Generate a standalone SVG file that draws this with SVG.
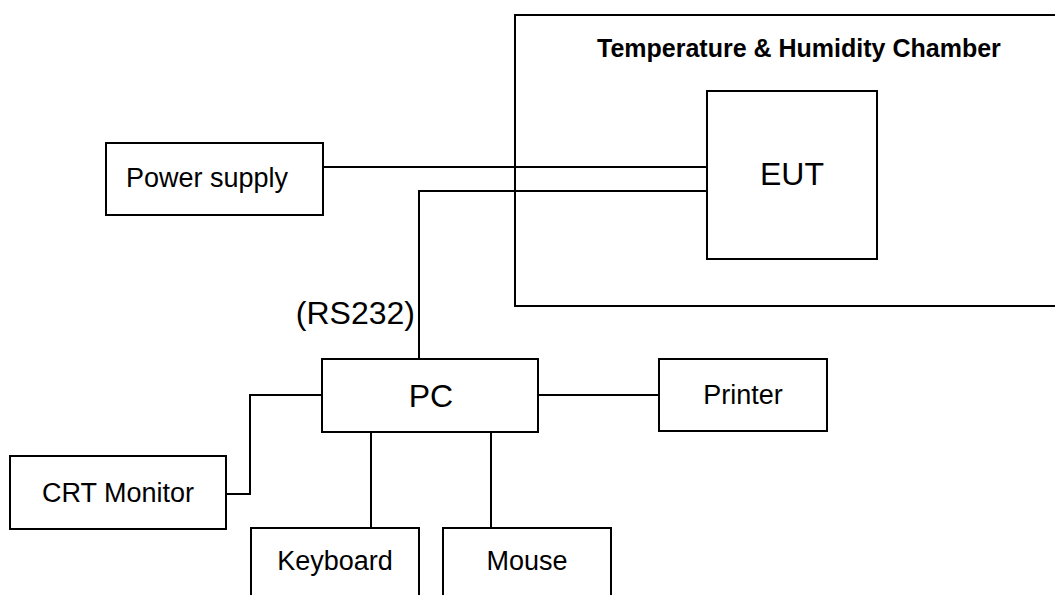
<svg xmlns="http://www.w3.org/2000/svg" width="1055" height="595" viewBox="0 0 1055 595">
<style>
.box{fill:#fff;stroke:#000;stroke-width:2}
.ln{fill:none;stroke:#000;stroke-width:2}
.t{font-family:"Liberation Sans",Arial,sans-serif;font-size:27px;fill:#000}
.big{font-size:32px}
.title{font-weight:bold;font-size:25px}
</style>
<rect width="1055" height="595" fill="#fff"/>
<g id="chamber">
<rect class="box" x="515" y="15" width="560" height="291"/>
<text class="t title" x="597" y="57">Temperature &amp; Humidity Chamber</text>
</g>
<g id="connectors">
<line class="ln" x1="323" y1="167" x2="707" y2="167"/>
<polyline class="ln" points="707,191 419,191 419,359"/>
<line class="ln" x1="538" y1="395" x2="659" y2="395"/>
<polyline class="ln" points="226,494 250,494 250,395 322,395"/>
<line class="ln" x1="371" y1="432" x2="371" y2="528"/>
<line class="ln" x1="491" y1="432" x2="491" y2="528"/>
<text class="t big" x="415" y="324" text-anchor="end">(RS232)</text>
</g>
<g id="eut">
<rect class="box" x="707" y="91" width="170" height="168"/>
<text class="t big" x="792" y="185" text-anchor="middle">EUT</text>
</g>
<g id="power">
<rect class="box" x="106" y="143" width="217" height="72"/>
<text class="t" x="126" y="187">Power supply</text>
</g>
<g id="pc">
<rect class="box" x="322" y="359" width="216" height="73"/>
<text class="t big" x="431" y="407" text-anchor="middle">PC</text>
</g>
<g id="printer">
<rect class="box" x="659" y="359" width="168" height="72"/>
<text class="t" x="743" y="404" text-anchor="middle">Printer</text>
</g>
<g id="crt">
<rect class="box" x="10" y="456" width="216" height="73"/>
<text class="t" x="118" y="502" text-anchor="middle">CRT Monitor</text>
</g>
<g id="keyboard">
<rect class="box" x="251" y="528" width="168" height="80"/>
<text class="t" x="335" y="570" text-anchor="middle">Keyboard</text>
</g>
<g id="mouse">
<rect class="box" x="443" y="528" width="168" height="80"/>
<text class="t" x="527" y="570" text-anchor="middle">Mouse</text>
</g>
</svg>
